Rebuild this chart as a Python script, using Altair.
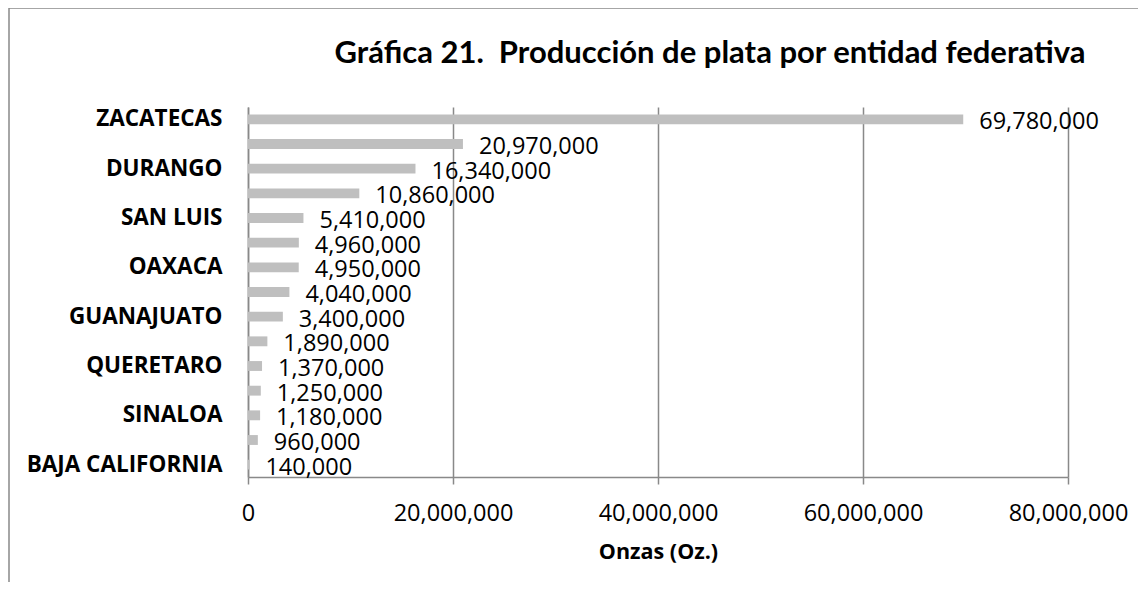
import altair as alt
import pandas as pd

estados = ["ZACATECAS", "CHIHUAHUA", "DURANGO", "SONORA", "SAN LUIS",
           "ESTADO DE MEXICO", "OAXACA", "JALISCO", "GUANAJUATO", "GUERRERO",
           "QUERETARO", "COAHUILA", "SINALOA", "MICHOACAN", "BAJA CALIFORNIA"]
onzas = [69780000, 20970000, 16340000, 10860000, 5410000,
         4960000, 4950000, 4040000, 3400000, 1890000,
         1370000, 1250000, 1180000, 960000, 140000]
etiquetas_visibles = ["ZACATECAS", "DURANGO", "SAN LUIS", "OAXACA",
                      "GUANAJUATO", "QUERETARO", "SINALOA", "BAJA CALIFORNIA"]
ticks_x = [0, 20000000, 40000000, 60000000, 80000000]
titulo = "Gráfica 21.\u00a0 Producción de plata por entidad federativa"

df = pd.DataFrame({"estado": estados, "onzas": onzas})

FONT = "Open Sans"
GRID = "#898989"

y_enc = alt.Y("estado:N", sort=estados,
              scale=alt.Scale(paddingInner=0.6, paddingOuter=0.3),
              axis=alt.Axis(values=etiquetas_visibles, title=None, ticks=False,
                            labelFont=FONT, labelFontSize=22.5, labelFontWeight="bold",
                            labelColor="black", labelPadding=26, labelLimit=400,
                            domainColor=GRID, domainWidth=1.5))
x_enc = alt.X("onzas:Q", scale=alt.Scale(domain=[0, 80000000]),
              axis=alt.Axis(values=ticks_x, format=",d", title="Onzas (Oz.)",
                            labelFont=FONT, labelFontSize=23.5, labelColor="black",
                            labelPadding=17, labelFlush=False,
                            tickSize=7, tickColor=GRID, tickWidth=1.5,
                            domainColor=GRID, domainWidth=1.5,
                            grid=True, gridColor=GRID, gridWidth=1.5,
                            titleFont=FONT, titleFontSize=21.5, titleFontWeight="bold",
                            titleColor="black", titlePadding=17))

bars = alt.Chart(df).mark_bar(color="#BFBFBF").encode(y=y_enc, x=x_enc)
labels = alt.Chart(df).mark_text(align="left", baseline="middle", dx=16, dy=3,
                                 font=FONT, fontSize=23.5, color="black").encode(
    y=alt.Y("estado:N", sort=estados), x="onzas:Q",
    text=alt.Text("onzas:Q", format=",d"))

one = pd.DataFrame({"a": [0]})
frame = alt.Chart(one).mark_rect(
    fill=None, stroke="#898989", strokeWidth=1.5).encode(
    x=alt.value(-239), x2=alt.value(1000), y=alt.value(-99), y2=alt.value(600))

title = alt.Chart(one).mark_text(
    font="Lato", fontSize=31, fontWeight="bold", color="black",
    align="center", baseline="middle").encode(
    x=alt.value(462), y=alt.value(-53), text=alt.value(titulo))

chart = alt.layer(frame, bars, labels, title).properties(
    width=820, height=370,
    autosize=alt.AutoSizeParams(type="none"),
    padding={"left": 240, "top": 99, "right": 70, "bottom": 105},
).configure_view(stroke=None)

chart.save("out.html", embed_options={"renderer": "svg", "actions": False})
